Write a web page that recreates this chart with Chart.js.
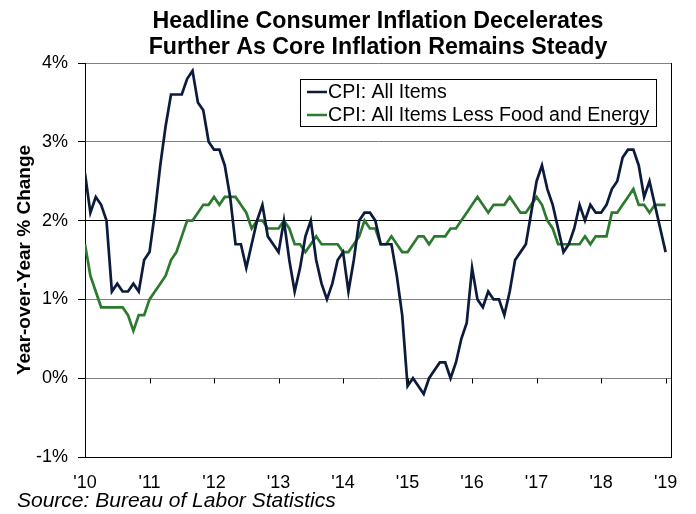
<!DOCTYPE html>
<html>
<head>
<meta charset="utf-8">
<script src="https://cdn.jsdelivr.net/npm/chart.js@4.4.0/dist/chart.umd.min.js"></script>
<style>
  html, body { margin: 0; padding: 0; background: #fff; }
  #place__graph { display: block; }
</style>
</head>
<body>
<canvas id="place__graph" width="696" height="514"></canvas>
<script>
// chart text
const titleLines = ['Headline Consumer Inflation Decelerates', 'Further As Core Inflation Remains Steady'];
const yTitle = 'Year-over-Year % Change';
const sourceText = 'Source: Bureau of Labor Statistics';

// x axis: one tick per January, 2010 to 2019
const yearLabels = ["'10", "'11", "'12", "'13", "'14", "'15", "'16", "'17", "'18", "'19"];

// monthly year-over-year % change, Jan 2010 .. Jan 2019
const cpiAll = [
  2.6, 2.1, 2.3, 2.2, 2.0, 1.1, 1.2, 1.1, 1.1, 1.2, 1.1, 1.5,
  1.6, 2.1, 2.7, 3.2, 3.6, 3.6, 3.6, 3.8, 3.9, 3.5, 3.4, 3.0,
  2.9, 2.9, 2.7, 2.3, 1.7, 1.7, 1.4, 1.7, 2.0, 2.2, 1.8, 1.7,
  1.6, 2.0, 1.5, 1.1, 1.4, 1.8, 2.0, 1.5, 1.2, 1.0, 1.2, 1.5,
  1.6, 1.1, 1.5, 2.0, 2.1, 2.1, 2.0, 1.7, 1.7, 1.7, 1.3, 0.8,
  -0.1, 0.0, -0.1, -0.2, 0.0, 0.1, 0.2, 0.2, 0.0, 0.2, 0.5, 0.7,
  1.4, 1.0, 0.9, 1.1, 1.0, 1.0, 0.8, 1.1, 1.5, 1.6, 1.7, 2.1,
  2.5, 2.7, 2.4, 2.2, 1.9, 1.6, 1.7, 1.9, 2.2, 2.0, 2.2, 2.1,
  2.1, 2.2, 2.4, 2.5, 2.8, 2.9, 2.9, 2.7, 2.3, 2.5, 2.2, 1.9,
  1.6
];
const cpiCore = [
  1.7, 1.3, 1.1, 0.9, 0.9, 0.9, 0.9, 0.9, 0.8, 0.6, 0.8, 0.8,
  1.0, 1.1, 1.2, 1.3, 1.5, 1.6, 1.8, 2.0, 2.0, 2.1, 2.2, 2.2,
  2.3, 2.2, 2.3, 2.3, 2.3, 2.2, 2.1, 1.9, 2.0, 2.0, 1.9, 1.9,
  1.9, 2.0, 1.9, 1.7, 1.7, 1.6, 1.7, 1.8, 1.7, 1.7, 1.7, 1.7,
  1.6, 1.6, 1.7, 1.8, 2.0, 1.9, 1.9, 1.7, 1.7, 1.8, 1.7, 1.6,
  1.6, 1.7, 1.8, 1.8, 1.7, 1.8, 1.8, 1.8, 1.9, 1.9, 2.0, 2.1,
  2.2, 2.3, 2.2, 2.1, 2.2, 2.2, 2.2, 2.3, 2.2, 2.1, 2.1, 2.2,
  2.3, 2.2, 2.0, 1.9, 1.7, 1.7, 1.7, 1.7, 1.7, 1.8, 1.7, 1.8,
  1.8, 1.8, 2.1, 2.1, 2.2, 2.3, 2.4, 2.2, 2.2, 2.1, 2.2, 2.2,
  2.2
];

const FONT = "'Liberation Sans', Arial, sans-serif";

const toPoints = arr => arr.map((v, i) => ({ x: i, y: v }));

// title, legend box, source line, 0% tick marks and right border
const extras = {
  id: 'extras',
  afterDraw(chart) {
    const ctx = chart.ctx;
    const area = chart.chartArea;
    const xs = chart.scales.x;
    const ys = chart.scales.y;
    ctx.save();

    // right border
    ctx.strokeStyle = '#000';
    ctx.lineWidth = 1;
    ctx.beginPath();
    ctx.moveTo(Math.round(area.right) + 0.5, area.top);
    ctx.lineTo(Math.round(area.right) + 0.5, area.bottom);
    ctx.stroke();

    // tick marks hang off the 0% line
    const y0 = Math.round(ys.getPixelForValue(0)) + 0.5;
    ctx.beginPath();
    yearLabels.forEach((_, i) => {
      const x = Math.round(xs.getPixelForValue(i * 12)) + 0.5;
      ctx.moveTo(x, y0);
      ctx.lineTo(x, y0 + 5);
    });
    ctx.stroke();

    // title
    ctx.fillStyle = '#000';
    ctx.textAlign = 'center';
    ctx.textBaseline = 'alphabetic';
    ctx.font = 'bold 23.2px ' + FONT;
    const cx = (area.left + area.right) / 2;
    ctx.fillText(titleLines[0], cx, 28);
    ctx.fillText(titleLines[1], cx, 54);

    // legend
    const bx = 300, by = 79, bw = 356, bh = 47;
    ctx.fillStyle = '#fff';
    ctx.fillRect(bx, by, bw, bh);
    ctx.strokeStyle = '#000';
    ctx.strokeRect(bx + 0.5, by + 0.5, bw, bh);
    ctx.font = '19.6px ' + FONT;
    ctx.textAlign = 'left';
    ctx.textBaseline = 'middle';
    chart.data.datasets.forEach((ds, i) => {
      const ry = 92 + i * 23;
      ctx.strokeStyle = ds.borderColor;
      ctx.lineWidth = 2.5;
      ctx.beginPath();
      ctx.moveTo(307, ry);
      ctx.lineTo(327, ry);
      ctx.stroke();
      ctx.fillStyle = '#000';
      ctx.fillText(ds.label, 328, ry + 1);
    });

    // source
    ctx.font = 'italic 21px ' + FONT;
    ctx.textBaseline = 'alphabetic';
    ctx.fillText(sourceText, 17, 507);
    ctx.restore();
  }
};

const ctx = document.getElementById('place__graph').getContext('2d');
const chart = new Chart(ctx, {
  type: 'line',
  data: {
    datasets: [{
      label: 'CPI: All Items',
      borderColor: '#0c1a3c',
      backgroundColor: '#0c1a3c',
      borderWidth: 2.7,
      pointRadius: 0,
      data: toPoints(cpiAll)
    },
    {
      label: 'CPI: All Items Less Food and Energy',
      borderColor: '#2c7a2e',
      backgroundColor: '#2c7a2e',
      borderWidth: 2.7,
      pointRadius: 0,
      data: toPoints(cpiCore)
    }]
  },
  options: {
    responsive: false,
    animation: false,
    devicePixelRatio: 1,
    layout: { padding: { top: 63, right: 25, left: 0, bottom: 0 } },
    plugins: { legend: { display: false }, title: { display: false }, tooltip: { enabled: false } },
    scales: {
      x: {
        type: 'linear',
        min: 0,
        max: 109,
        afterBuildTicks: scale => { scale.ticks = yearLabels.map((_, i) => ({ value: i * 12 })); },
        afterFit: scale => { scale.height = 57; },
        grid: { display: false },
        border: { display: true, color: '#000', width: 1 },
        ticks: {
          autoSkip: false,
          maxRotation: 0,
          padding: 7,
          color: '#000',
          font: { family: FONT, size: 18 },
          callback: v => yearLabels[v / 12]
        }
      },
      y: {
        min: -1,
        max: 4,
        afterFit: scale => { scale.width = 85; },
        grid: {
          color: c => (c.tick && c.tick.value === 2 ? '#000' : '#808080'),
          lineWidth: 1,
          tickColor: '#000',
          tickLength: 7
        },
        border: { display: true, color: '#000', width: 1 },
        ticks: {
          stepSize: 1,
          padding: 10,
          color: '#000',
          font: { family: FONT, size: 18 },
          callback: v => v + '%'
        },
        title: {
          display: true,
          text: yTitle,
          color: '#000',
          font: { family: FONT, size: 19, weight: 'bold' },
          padding: { top: 13, bottom: 0 }
        }
      }
    }
  },
  plugins: [extras]
});
</script>
</body>
</html>
